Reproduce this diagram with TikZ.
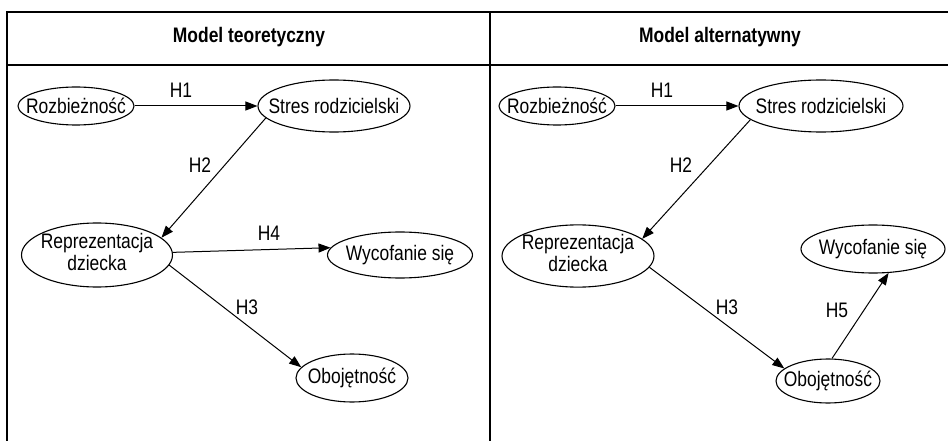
\documentclass[tikz,border=0pt]{standalone}
\usepackage{fontspec}
\setmainfont[FakeStretch=0.83]{Liberation Sans}
\usetikzlibrary{shapes.geometric,arrows.meta}
\begin{document}
\begin{tikzpicture}[x=1pt,y=-1pt,
  every node/.style={font=\fontsize{21}{22}\selectfont},
  var/.style={ellipse,draw,line width=1.1pt,inner sep=0pt},
  link/.style={line width=1pt,-{Triangle[length=12pt,width=9pt]}},
  frame/.style={line width=1.4pt},
  lbl/.style={inner sep=0pt},
  head/.style={font=\fontsize{21}{22}\selectfont\bfseries,inner sep=0pt}]
\useasboundingbox (0,0) rectangle (948,441);
% frame
\coordinate (tl) at (7,12);
\coordinate (tr) at (948,12);
\coordinate (ml) at (7,65);
\coordinate (mr) at (948,65);
\coordinate (bl) at (7,441);
\coordinate (dt) at (490,12);
\coordinate (db) at (490,441);
\draw[frame] (tr) -- (tl) -- (bl);
\draw[frame] (ml) -- (mr);
\draw[frame] (dt) -- (db);
% headers
\node[head] (hl) at (249,37) {Model teoretyczny};
\node[head] (hr) at (720,37) {Model alternatywny};
% left panel
\node[var,minimum width=116,minimum height=38] (rz1) at (76,106) {\makebox[0pt]{Rozbieżność}};
\node[var,minimum width=152,minimum height=52] (st1) at (334,106) {\makebox[0pt]{Stres rodzicielski}};
\node[var,minimum width=151,minimum height=64] (re1) at (97,255) {\makebox[0pt]{\begin{tabular}{@{}c@{}}Reprezentacja\\dziecka\end{tabular}}};
\node[var,minimum width=145,minimum height=46] (wy1) at (400,255) {\makebox[0pt]{Wycofanie się}};
\node[var,minimum width=112,minimum height=48] (ob1) at (352,378) {\makebox[0pt]{Obojętność}};
\draw[link] (rz1) -- (st1);
\draw[link] (st1.190) -- (re1.15);
\draw[link] (re1.2) -- (wy1.174);
\draw[link] (re1.-8) -- (ob1.168);
\node[lbl] (h1a) at (181,90) {H1};
\node[lbl] (h2a) at (200,165) {H2};
\node[lbl] (h4a) at (269,233) {H4};
\node[lbl] (h3a) at (247,307) {H3};
% right panel
\node[var,minimum width=116,minimum height=38] (rz2) at (557,106) {\makebox[0pt]{Rozbieżność}};
\node[var,minimum width=164,minimum height=52] (st2) at (821,106) {\makebox[0pt]{Stres rodzicielski}};
\node[var,minimum width=152,minimum height=62] (re2) at (578,256) {\makebox[0pt]{\begin{tabular}{@{}c@{}}Reprezentacja\\dziecka\end{tabular}}};
\node[var,minimum width=144,minimum height=48] (wy2) at (873,249) {\makebox[0pt]{Wycofanie się}};
\node[var,minimum width=104,minimum height=44] (ob2) at (828,381) {\makebox[0pt]{Obojętność}};
\draw[link] (rz2) -- (st2);
\draw[link] (st2.191) -- (re2.15);
\draw[link] (re2.-9) -- (ob2.164);
\draw[link] (ob2.80) -- (wy2.-57);
\node[lbl] (h1b) at (662,90) {H1};
\node[lbl] (h2b) at (681,165) {H2};
\node[lbl] (h3b) at (727,307) {H3};
\node[lbl] (h5b) at (837,310) {H5};
\end{tikzpicture}
\end{document}
